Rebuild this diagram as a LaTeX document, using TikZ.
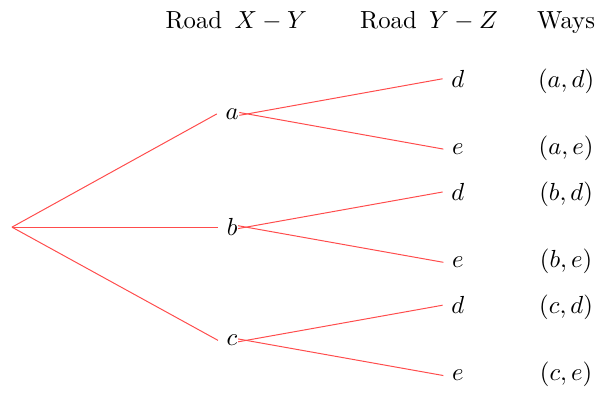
\documentclass[tikz,border=0pt]{standalone}
\usetikzlibrary{positioning}

\begin{document}
\begin{tikzpicture}[
    branch/.style={red!70, thin},
    from/.style={shorten <=-3.3pt},
    way/.style={anchor=base}
]
    \useasboundingbox (-0.17,-2.35) rectangle (8.39,3.23);

    % column heads
    \node[way] (hxy) at (3.19,2.83) {Road\enspace$X-Y$};
    \node[way] (hyz) at (5.93,2.83) {Road\enspace$Y-Z$};
    \node[way] (hw)  at (7.88,2.83) {Ways};
    \coordinate (wx) at (7.88,0);

    % first stage
    \coordinate (root) at (0,0);
    \node (a) at (3.13,1.61) {$a$};
    \node (b) at (3.13,0) {$b$};
    \node (c) at (3.13,-1.61) {$c$};

    % second stage
    \node (ad) at (6.34,2.11) {$d$};
    \node (ae) at (6.34,1.11) {$e$};
    \node (bd) at (6.34,0.50) {$d$};
    \node (be) at (6.34,-0.50) {$e$};
    \node (cd) at (6.34,-1.11) {$d$};
    \node (ce) at (6.34,-2.11) {$e$};

    % ways
    \node[way] (wad) at (ad.base -| wx) {$(a,d)$};
    \node[way] (wae) at (ae.base -| wx) {$(a,e)$};
    \node[way] (wbd) at (bd.base -| wx) {$(b,d)$};
    \node[way] (wbe) at (be.base -| wx) {$(b,e)$};
    \node[way] (wcd) at (cd.base -| wx) {$(c,d)$};
    \node[way] (wce) at (ce.base -| wx) {$(c,e)$};

    \draw[branch] (root) -- (a.west);
    \draw[branch] (root) -- (b.west);
    \draw[branch] (root) -- (c.west);
    \draw[branch, from] (a.east) -- (ad.west);
    \draw[branch, from] (a.east) -- (ae.west);
    \draw[branch, from] (b.east) -- (bd.west);
    \draw[branch, from] (b.east) -- (be.west);
    \draw[branch, from] (c.east) -- (cd.west);
    \draw[branch, from] (c.east) -- (ce.west);
\end{tikzpicture}
\end{document}
